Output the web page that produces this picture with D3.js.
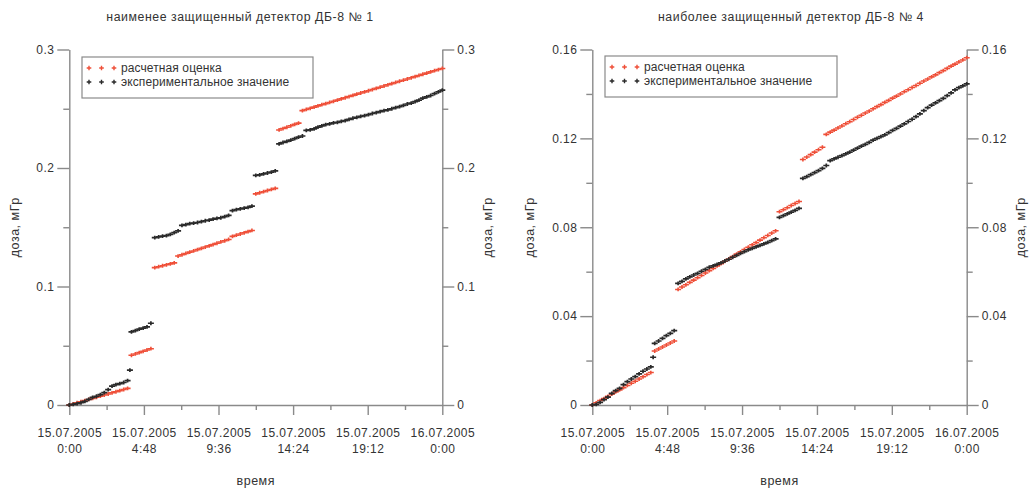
<!DOCTYPE html>
<html><head><meta charset="utf-8">
<script src="https://cdn.jsdelivr.net/npm/d3@7"></script>
<style>
html,body{margin:0;padding:0;background:#fff;}
svg{display:block;font-family:"Liberation Sans",Arial,sans-serif;}
</style></head>
<body><svg id="c" width="1029" height="490"></svg>
<script>
// time of each reading, hours since 15.07.2005 0:00
const hours = [0,0.25,0.5,0.75,1,1.25,1.5,1.75,2,2.25,2.5,2.75,3,3.25,3.5,3.75,
4,4.25,4.5,4.75,5,5.25,5.5,5.75,6,6.25,6.5,6.75,7,7.25,7.5,7.75,
8,8.25,8.5,8.75,9,9.25,9.5,9.75,10,10.25,10.5,10.75,11,11.25,11.5,11.75,
12,12.25,12.5,12.75,13,13.25,13.5,13.75,14,14.25,14.5,14.75,15,15.25,15.5,15.75,
16,16.25,16.5,16.75,17,17.25,17.5,17.75,18,18.25,18.5,18.75,19,19.25,19.5,19.75,
20,20.25,20.5,20.75,21,21.25,21.5,21.75,22,22.25,22.5,22.75,23,23.25,23.5,23.75,24];

// detector No 1 (least shielded)
const calc1 = [0,.0009,.0019,.0028,.0037,.0047,.0056,.0065,.0075,.0084,.0093,.0103,.0112,.0121,.0131,.0140,
.0420,.0431,.0442,.0453,.0464,.0475,
.1159,.1167,.1175,.1183,.1191,.1199,
.1257,.1268,.1279,.1290,.1300,.1311,.1322,.1333,.1343,.1354,.1365,.1376,.1386,.1397,
.1423,.1433,.1443,.1453,.1463,.1473,
.1782,.1791,.1800,.1810,.1819,.1828,
.2321,.2333,.2344,.2356,.2368,.2379,
.2484,.2494,.2504,.2514,.2524,.2534,.2543,.2553,.2563,.2573,.2583,.2593,.2603,.2613,.2623,.2633,.2642,.2652,.2662,.2672,.2682,.2692,.2702,.2712,.2722,.2732,.2741,.2751,.2761,.2771,.2781,.2791,.2801,.2811,.2821,.2831,.2840];
const exp1 = [0,.0005,.0012,.0019,.0030,.0048,.0065,.0074,.0088,.0105,.0130,.0160,.0172,.0180,.0190,.0205,
.0617,.0628,.0640,.0648,.0660,.0690,
.1412,.1418,.1425,.1430,.1440,.1455,.1470,.1515,.1522,.1530,.1535,.1540,.1548,.1555,.1560,.1568,.1575,.1580,.1590,.1600,.1640,.1648,.1655,.1662,.1668,.1678,
.1937,.1942,.1950,.1958,.1965,.1975,
.2203,.2215,.2225,.2235,.2248,.2260,.2270,.2318,.2322,.2330,.2345,.2355,.2366,.2372,.2380,.2385,.2394,.2400,.2410,.2420,.2428,.2435,.2442,.2450,.2460,.2468,.2475,.2484,.2490,.2500,.2510,.2518,.2528,.2540,.2548,.2560,.2572,.2590,.2600,.2612,.2628,.2642,.2658];

// detector No 4 (most shielded)
const calc4 = [0,.0010,.0020,.0029,.0039,.0049,.0059,.0068,.0078,.0088,.0098,.0107,.0117,.0127,.0137,.0146,
.0243,.0252,.0261,.0270,.0279,.0288,
.0520,.0531,.0541,.0552,.0562,.0573,.0583,.0594,.0605,.0615,.0626,.0636,.0647,.0657,.0668,.0679,.0689,.0700,.0710,.0721,.0731,.0742,.0753,.0763,.0774,.0784,
.0870,.0879,.0888,.0898,.0907,.0916,
.1105,.1116,.1127,.1138,.1149,.1160,
.1218,.1228,.1237,.1247,.1256,.1266,.1275,.1285,.1295,.1304,.1314,.1323,.1333,.1343,.1352,.1362,.1371,.1381,.1390,.1400,.1410,.1419,.1429,.1438,.1448,.1458,.1467,.1477,.1486,.1496,.1505,.1515,.1525,.1534,.1544,.1553,.1563];
const exp4 = [0,.0003,.0012,.0024,.0035,.0052,.0065,.0075,.0092,.0105,.0117,.0128,.0140,.0152,.0162,.0172,
.0277,.0288,.0300,.0312,.0322,.0335,
.0547,.0556,.0568,.0577,.0585,.0592,.0602,.0610,.0620,.0626,.0633,.0640,.0648,.0656,.0665,.0673,.0682,.0690,.0698,.0705,.0712,.0718,.0725,.0732,.0740,.0748,
.0844,.0852,.0860,.0868,.0876,.0885,
.1020,.1028,.1037,.1046,.1055,.1065,
.1078,.1100,.1108,.1115,.1122,.1130,.1138,.1147,.1156,.1165,.1173,.1182,.1192,.1200,.1208,.1216,.1226,.1236,.1245,.1255,.1265,.1276,.1286,.1298,.1310,.1325,.1338,.1350,.1360,.1370,.1380,.1392,.1405,.1418,.1428,.1436,.1445];

// single stray experimental readings during the first jump
const strayHours = [3.9];
const stray1 = [0.0295];
const stray4 = [0.0215];

const xTickHours = [0, 4.8, 9.6, 14.4, 19.2, 24];
const xMinorHours = [2.4, 7.2, 12, 16.8, 21.6];
const xTickDates = ["15.07.2005","15.07.2005","15.07.2005","15.07.2005","15.07.2005","16.07.2005"];
const xTickTimes = ["0:00","4:48","9:36","14:24","19:12","0:00"];

const yTicks1 = [0, 0.1, 0.2, 0.3];
const yMinor1 = [0.05, 0.15, 0.25];
const yTicks4 = [0, 0.04, 0.08, 0.12, 0.16];
const yMinor4 = [0.02, 0.06, 0.10, 0.14];

const titles = ["наименее защищенный детектор ДБ-8 № 1", "наиболее защищенный детектор ДБ-8 № 4"];
const legendNames = ["расчетная оценка", "экспериментальное значение"];
const yTitle = "доза, мГр";
const xTitle = "время";

const RED = "#ef4f38", BLACK = "#2a2a2a", AXIS = "#8a8a8a", TXT = "#333";
const svg = d3.select("#c");
const plus = "M-3,0H3M0,-1.9V1.9";

function chart(cfg) {
  const x = d3.scaleLinear().domain([0, 24]).range([cfg.x0, cfg.x1]);
  const y = d3.scaleLinear().domain([0, cfg.ymax]).range([405, 49.5]);
  const g = svg.append("g");

  // title
  g.append("text").attr("x", cfg.titleX).attr("y", 21).attr("text-anchor", "middle")
    .attr("font-size", 12.3).attr("letter-spacing", 0.55).attr("fill", TXT).text(cfg.title);

  const styleAxis = (a) => {
    a.select(".domain").attr("stroke", AXIS).attr("stroke-width", 1.4);
    a.selectAll(".tick line").attr("stroke", AXIS).attr("stroke-width", 1.4);
    a.selectAll("text").attr("fill", TXT).attr("font-size", 12).attr("letter-spacing", 0.45)
      .attr("font-family", "'Liberation Sans',Arial,sans-serif");
  };

  // y axes (major + minor)
  const fmt = d => d === 0 ? "0" : String(+d.toFixed(2));
  const yl = g.append("g").attr("transform", `translate(${cfg.x0},0)`)
    .call(d3.axisLeft(y).tickValues(cfg.yTicks).tickFormat(fmt).tickSize(12).tickSizeOuter(0).tickPadding(3));
  styleAxis(yl);
  g.append("g").attr("transform", `translate(${cfg.x0},0)`)
    .call(d3.axisLeft(y).tickValues(cfg.yMinor).tickFormat("").tickSize(6).tickSizeOuter(0))
    .call(a => { a.select(".domain").remove(); a.selectAll("line").attr("stroke", AXIS).attr("stroke-width", 1.4); });
  const yr = g.append("g").attr("transform", `translate(${cfg.x1},0)`)
    .call(d3.axisRight(y).tickValues(cfg.yTicks).tickFormat(fmt).tickSize(12).tickSizeOuter(0).tickPadding(3));
  styleAxis(yr);
  g.append("g").attr("transform", `translate(${cfg.x1},0)`)
    .call(d3.axisRight(y).tickValues(cfg.yMinor).tickFormat("").tickSize(6).tickSizeOuter(0))
    .call(a => { a.select(".domain").remove(); a.selectAll("line").attr("stroke", AXIS).attr("stroke-width", 1.4); });

  // x axis
  const xa = g.append("g").attr("transform", "translate(0,405)")
    .call(d3.axisBottom(x).tickValues(xTickHours).tickSize(10).tickSizeOuter(0).tickFormat((d, i) => i));
  styleAxis(xa);
  xa.selectAll(".tick text").each(function(d, i) {
    const t = d3.select(this);
    t.text(null).attr("y", 0).attr("dy", null);
    t.append("tspan").attr("x", 0).attr("y", 32).text(xTickDates[i]);
    t.append("tspan").attr("x", 0).attr("y", 48).text(xTickTimes[i]);
  });
  g.append("g").attr("transform", "translate(0,405)")
    .call(d3.axisBottom(x).tickValues(xMinorHours).tickSize(5).tickSizeOuter(0).tickFormat(""))
    .call(a => { a.select(".domain").remove(); a.selectAll("line").attr("stroke", AXIS).attr("stroke-width", 1.4); });

  // axis titles
  const ymid = (y(0) + y(cfg.ymax)) / 2;
  [cfg.yTitleL, cfg.yTitleR].forEach(px => {
    g.append("text").attr("transform", `translate(${px},${ymid}) rotate(-90)`)
      .attr("text-anchor", "middle").attr("dy", "0.35em").attr("font-size", 12.5).attr("letter-spacing", 0.5)
      .attr("fill", TXT).text(yTitle);
  });
  g.append("text").attr("x", (cfg.x0 + cfg.x1) / 2).attr("y", 485).attr("text-anchor", "middle")
    .attr("font-size", 12.5).attr("letter-spacing", 0.5).attr("fill", TXT).text(xTitle);

  // data markers
  const drawSeries = (vals, hrs, color, w) => {
    g.append("g").selectAll("path").data(vals.map((v, i) => [hrs[i], v])).join("path")
      .attr("d", plus).attr("transform", d => `translate(${x(d[0])},${y(d[1])})`)
      .attr("stroke", color).attr("stroke-width", w).attr("fill", "none");
  };
  drawSeries(cfg.calc, hours, RED, 1.6);
  drawSeries(cfg.exp, hours, BLACK, 1.7);
  drawSeries(cfg.stray, strayHours, BLACK, 1.7);

  // legend
  const lg = g.append("g");
  lg.append("rect").attr("x", cfg.lgX).attr("y", cfg.lgY).attr("width", cfg.lgW).attr("height", 41)
    .attr("fill", "#fff").attr("stroke", "#8a8a8a").attr("stroke-width", 1.2);
  [RED, BLACK].forEach((c, k) => {
    const yy = cfg.lgY + 11 + k * 14;
    [0, 1, 2].forEach(j => {
      lg.append("path").attr("d", "M-2.3,0H2.3M0,-2.3V2.3").attr("transform", `translate(${cfg.lgX + 7 + j * 12.5},${yy})`)
        .attr("stroke", c).attr("stroke-width", 1.4);
    });
    lg.append("text").attr("x", cfg.lgX + 39).attr("y", yy).attr("dy", "0.35em")
      .attr("font-size", 12).attr("letter-spacing", 0.1).attr("fill", TXT).text(legendNames[k]);
  });
}

chart({x0: 69.3, x1: 442.3, ymax: 0.3, yTicks: yTicks1, yMinor: yMinor1, calc: calc1, exp: exp1, stray: stray1,
  title: titles[0], titleX: 240, yTitleL: 15, yTitleR: 488, lgX: 82, lgY: 57, lgW: 231});
chart({x0: 592.3, x1: 966.7, ymax: 0.16, yTicks: yTicks4, yMinor: yMinor4, calc: calc4, exp: exp4, stray: stray4,
  title: titles[1], titleX: 791, yTitleL: 530, yTitleR: 1021, lgX: 605, lgY: 56, lgW: 232});
</script></body></html>
